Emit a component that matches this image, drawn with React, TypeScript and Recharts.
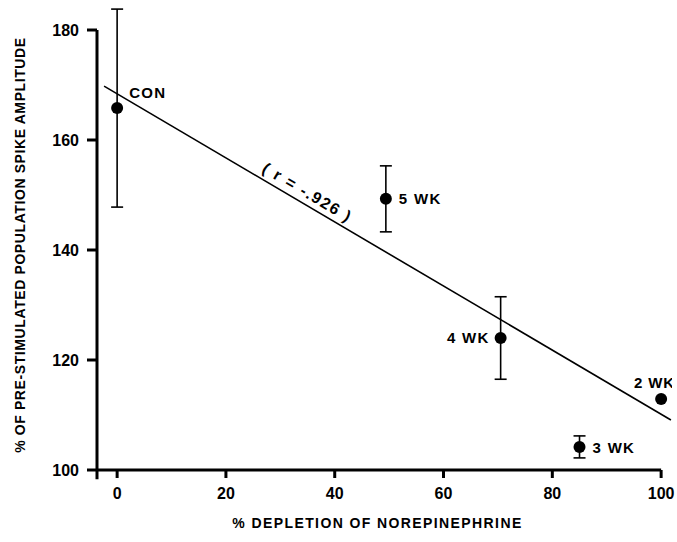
import React from "react";
import {
  ErrorBar,
  Label,
  ReferenceLine,
  Scatter,
  ScatterChart,
  XAxis,
  YAxis
} from "recharts";

const FONT = '"Liberation Sans", Arial, Helvetica, sans-serif';

// groups with error bars (mean +/- SEM)
const GROUPS = ["CON", "5 WK", "4 WK", "3 WK"];
const DEPLETION = [0, 49.4, 70.5, 85];
const AMPLITUDE = [165.8, 149.3, 124, 104.2];
const SEM = [18, 6, 7.5, 2];

// group drawn without an error bar
const LATE_GROUPS = ["2 WK"];
const LATE_DEPLETION = [100];
const LATE_AMPLITUDE = [112.9];

// regression line end points
const FIT_X = [-2.4, 101.8];
const FIT_Y = [169.8, 109.1];

const R_TEXT = "( r = -.926 )";
const R_X = [35];
const R_Y = [150.5];

const X_TICKS = [0, 20, 40, 60, 80, 100];
const Y_TICKS = [100, 120, 140, 160, 180];

const X_DOMAIN: [number, number] = [-3.7, 102];
const Y_DOMAIN: [number, number] = [100, 184];

const LABEL_OFFSET: Record<string, { dx: number; dy: number; anchor: "start" | "end"; spacing: number }> = {
  CON: { dx: 12, dy: -16, anchor: "start", spacing: 1.3 },
  "5 WK": { dx: 13, dy: 0, anchor: "start", spacing: 1.3 },
  "4 WK": { dx: -11, dy: 0, anchor: "end", spacing: 1.3 },
  "3 WK": { dx: 13, dy: 1, anchor: "start", spacing: 1.3 },
  "2 WK": { dx: -27, dy: -16, anchor: "start", spacing: 0.8 }
};

const groupData = GROUPS.map((name, i) => ({
  name,
  x: DEPLETION[i],
  y: AMPLITUDE[i],
  err: SEM[i]
}));
const lateData = LATE_GROUPS.map((name, i) => ({
  name,
  x: LATE_DEPLETION[i],
  y: LATE_AMPLITUDE[i]
}));
const fitData = FIT_X.map((x, i) => ({ x, y: FIT_Y[i] }));
const rData = R_X.map((x, i) => ({ x, y: R_Y[i] }));

function PointShape(props: any) {
  const { cx, cy, payload } = props;
  const off = LABEL_OFFSET[payload.name];
  return (
    <g>
      <circle cx={cx} cy={cy} r={6} fill="#000" />
      <text
        x={cx + off.dx}
        y={cy + off.dy}
        dy="0.36em"
        textAnchor={off.anchor}
        fontFamily={FONT}
        fontWeight={700}
        fontSize={15}
        letterSpacing={off.spacing}
        fill="#000"
      >
        {payload.name}
      </text>
    </g>
  );
}

function RLabelShape(props: any) {
  const { cx, cy } = props;
  return (
    <text
      x={cx}
      y={cy}
      dy="0.36em"
      textAnchor="middle"
      transform={`rotate(30.5 ${cx} ${cy})`}
      fontFamily={FONT}
      fontWeight={700}
      fontSize={16}
      letterSpacing={1.6}
      fill="#000"
      style={{ whiteSpace: "pre" }}
    >
      {R_TEXT}
    </text>
  );
}

function YTitle(props: any) {
  const vb = props.viewBox;
  const x = vb.x + 20;
  const y = vb.y + vb.height / 2 + 6;
  return (
    <text
      x={x}
      y={y}
      dy="0.36em"
      textAnchor="middle"
      transform={`rotate(-90 ${x} ${y})`}
      fontFamily={FONT}
      fontWeight={700}
      fontSize={14}
      letterSpacing={0.6}
      fill="#000"
    >
      % OF PRE-STIMULATED POPULATION SPIKE AMPLITUDE
    </text>
  );
}

function XTitle(props: any) {
  const vb = props.viewBox;
  return (
    <text
      x={vb.x + vb.width / 2 - 7}
      y={vb.y + 53}
      dy="0.36em"
      textAnchor="middle"
      fontFamily={FONT}
      fontWeight={700}
      fontSize={14}
      letterSpacing={1.4}
      fill="#000"
    >
      % DEPLETION OF NOREPINEPHRINE
    </text>
  );
}

const tickStyle = {
  fill: "#000",
  fontSize: 16,
  fontWeight: 700,
  fontFamily: FONT
};

export default function App() {
  return (
    <div
      style={{
        position: "fixed",
        left: 0,
        top: 0,
        width: 677,
        height: 542,
        overflow: "hidden",
        background: "#fff"
      }}
    >
      <ScatterChart
        width={677}
        height={542}
        margin={{ top: 8, right: 5, bottom: 0, left: 0 }}
      >
        <XAxis
          type="number"
          dataKey="x"
          domain={X_DOMAIN}
          ticks={X_TICKS}
          allowDataOverflow
          axisLine={false}
          tickLine={{ stroke: "#000", strokeWidth: 3 }}
          tickSize={8}
          tickMargin={10}
          tick={tickStyle}
          height={72}
          label={<Label content={XTitle} />}
        />
        <YAxis
          type="number"
          dataKey="y"
          domain={Y_DOMAIN}
          ticks={Y_TICKS}
          allowDataOverflow
          axisLine={false}
          tickLine={{ stroke: "#000", strokeWidth: 3 }}
          tickSize={10}
          tickMargin={8}
          tick={tickStyle}
          width={97}
          label={<Label content={YTitle} />}
        />
        <ReferenceLine
          segment={[
            { x: X_DOMAIN[0], y: 100 },
            { x: 100, y: 100 }
          ]}
          stroke="#000"
          strokeWidth={3}
          ifOverflow="visible"
        />
        <ReferenceLine
          segment={[
            { x: X_DOMAIN[0], y: 98.3 },
            { x: X_DOMAIN[0], y: 180 }
          ]}
          stroke="#000"
          strokeWidth={3}
          ifOverflow="visible"
        />
        <Scatter
          data={fitData}
          line={{ stroke: "#000", strokeWidth: 1.6 }}
          shape={() => <g />}
          isAnimationActive={false}
        />
        <Scatter data={rData} shape={RLabelShape} isAnimationActive={false} />
        <Scatter data={groupData} shape={PointShape} isAnimationActive={false}>
          <ErrorBar
            dataKey="err"
            direction="y"
            width={6}
            stroke="#000"
            strokeWidth={1.6}
            isAnimationActive={false}
          />
        </Scatter>
        <Scatter data={lateData} shape={PointShape} isAnimationActive={false} />
      </ScatterChart>
    </div>
  );
}
